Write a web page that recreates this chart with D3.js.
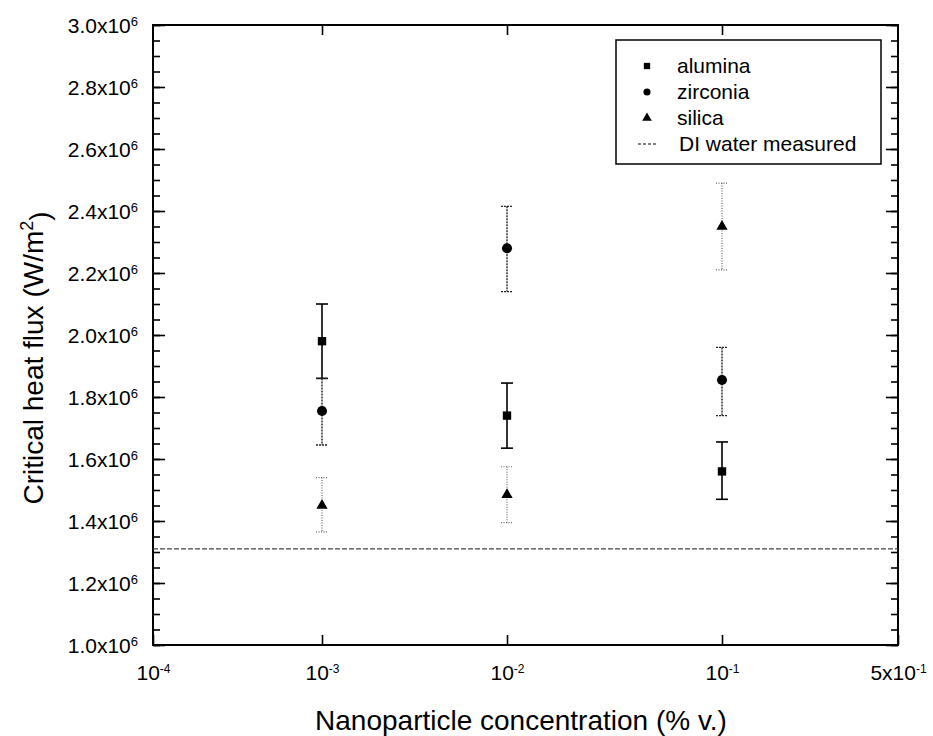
<!DOCTYPE html>
<html>
<head>
<meta charset="utf-8">
<style>
body { margin: 0; background: #fff; }
svg { font-family: "Liberation Sans", Arial, sans-serif; }
.frame { fill: none; stroke: #000; stroke-width: 2; }
.axis path { display: none; }
.axis line { stroke: #000; stroke-width: 1.6; }
.axis text { font-family: "Liberation Sans", Arial, sans-serif; font-size: 21px; fill: #000; }
.title { font-size: 28px; fill: #000; }
.legend text { font-size: 21px; fill: #000; }
</style>
</head>
<body>
<svg width="933" height="736"></svg>
<script src="https://d3js.org/d3.v7.min.js"></script>
<script>
// concentrations (% v.)
var conc = [1e-3, 1e-2, 1e-1];

// CHF values (W/m2) and error bar limits, per nanoparticle
var alumina     = [1.98e6, 1.74e6, 1.56e6];
var aluminaHi   = [2.10e6, 1.845e6, 1.655e6];
var aluminaLo   = [1.86e6, 1.635e6, 1.47e6];

var zirconia    = [1.755e6, 2.28e6, 1.855e6];
var zirconiaHi  = [1.86e6, 2.415e6, 1.96e6];
var zirconiaLo  = [1.645e6, 2.14e6, 1.74e6];

var silica      = [1.45e6, 1.485e6, 2.35e6];
var silicaHi    = [1.54e6, 1.575e6, 2.49e6];
var silicaLo    = [1.365e6, 1.395e6, 2.21e6];

var diWater = 1.31e6;

var xTicks = [1e-4, 1e-3, 1e-2, 1e-1, 5e-1];
var xTickBase = ["10", "10", "10", "10", "5x10"];
var xTickExp = ["-4", "-3", "-2", "-1", "-1"];
var yTicks = [1.0e6, 1.2e6, 1.4e6, 1.6e6, 1.8e6, 2.0e6, 2.2e6, 2.4e6, 2.6e6, 2.8e6, 3.0e6];
var legendNames = ["alumina", "zirconia", "silica", "DI water measured"];

var svg = d3.select("svg");
var pLeft = 153, pRight = 898, pTop = 25, pBottom = 645;

// the decades are not evenly spaced in the original figure
var x = d3.scaleLog()
  .domain(xTicks)
  .range([153, 322, 507, 722, 898]);

var y = d3.scaleLinear()
  .domain([1.0e6, 3.0e6])
  .range([pBottom, pTop]);

var minorY = d3.range(1.0e6, 3.0e6 + 1, 0.05e6);

// left axis (ticks inward)
svg.append("g").attr("class", "axis")
  .attr("transform", "translate(" + pLeft + ",0)")
  .call(d3.axisLeft(y).tickValues(minorY).tickSize(-7).tickFormat(""));
var gy = svg.append("g").attr("class", "axis")
  .attr("transform", "translate(" + pLeft + ",0)")
  .call(d3.axisLeft(y).tickValues(yTicks).tickSize(-12).tickPadding(15).tickFormat(""));
gy.selectAll(".tick text").each(function(d) {
  var t = d3.select(this).attr("dy", "0.36em").attr("text-anchor", "end");
  t.append("tspan").text((d / 1e6).toFixed(1) + "x10");
  t.append("tspan").attr("dy", "-0.55em").attr("font-size", "13px").text("6");
});

// right axis mirror
svg.append("g").attr("class", "axis")
  .attr("transform", "translate(" + pRight + ",0)")
  .call(d3.axisRight(y).tickValues(minorY).tickSize(-7).tickFormat(""));
svg.append("g").attr("class", "axis")
  .attr("transform", "translate(" + pRight + ",0)")
  .call(d3.axisRight(y).tickValues(yTicks).tickSize(-12).tickFormat(""));

// bottom axis
var gx = svg.append("g").attr("class", "axis")
  .attr("transform", "translate(0," + pBottom + ")")
  .call(d3.axisBottom(x).tickValues(xTicks).tickSize(-10).tickPadding(20).tickFormat(""));
gx.selectAll(".tick text").each(function(d, i) {
  var t = d3.select(this).attr("dy", "0.71em");
  t.append("tspan").text(xTickBase[i]);
  t.append("tspan").attr("dy", "-0.55em").attr("font-size", "12px").text(xTickExp[i]);
});

// top axis mirror
svg.append("g").attr("class", "axis")
  .attr("transform", "translate(0," + pTop + ")")
  .call(d3.axisTop(x).tickValues(xTicks.slice(1, 4)).tickSize(-10).tickFormat(""));

svg.append("rect").attr("class", "frame")
  .attr("x", pLeft).attr("y", pTop)
  .attr("width", pRight - pLeft).attr("height", pBottom - pTop);

// DI water reference line
svg.append("line")
  .attr("x1", pLeft).attr("x2", pRight)
  .attr("y1", y(diWater)).attr("y2", y(diWater))
  .attr("stroke", "#444").attr("stroke-width", 1.4)
  .attr("stroke-dasharray", "5,2");

var series = [
  {vals: alumina, hi: aluminaHi, lo: aluminaLo, sym: d3.symbolSquare, size: 70, stroke: "#000", dash: null, w: 1.6},
  {vals: zirconia, hi: zirconiaHi, lo: zirconiaLo, sym: d3.symbolCircle, size: 80, stroke: "#222", dash: "2,1", w: 1.4},
  {vals: silica, hi: silicaHi, lo: silicaLo, sym: d3.symbolTriangle, size: 55, stroke: "#666", dash: "1,1.5", w: 1.2}
];

series.forEach(function(s) {
  var g = svg.append("g");
  var bars = g.selectAll(".err").data(conc).enter().append("g")
    .attr("stroke", s.stroke).attr("stroke-width", s.w)
    .attr("stroke-dasharray", s.dash);
  bars.append("line")
    .attr("x1", function(d) { return x(d); }).attr("x2", function(d) { return x(d); })
    .attr("y1", function(d, i) { return y(s.hi[i]); })
    .attr("y2", function(d, i) { return y(s.lo[i]); });
  bars.append("line")
    .attr("x1", function(d) { return x(d) - 6; }).attr("x2", function(d) { return x(d) + 6; })
    .attr("y1", function(d, i) { return y(s.hi[i]); })
    .attr("y2", function(d, i) { return y(s.hi[i]); });
  bars.append("line")
    .attr("x1", function(d) { return x(d) - 6; }).attr("x2", function(d) { return x(d) + 6; })
    .attr("y1", function(d, i) { return y(s.lo[i]); })
    .attr("y2", function(d, i) { return y(s.lo[i]); });
  g.selectAll(".pt").data(conc).enter().append("path")
    .attr("d", d3.symbol().type(s.sym).size(s.size))
    .attr("fill", "#000")
    .attr("transform", function(d, i) { return "translate(" + x(d) + "," + y(s.vals[i]) + ")"; });
});

// legend
var lg = svg.append("g").attr("class", "legend");
lg.append("rect").attr("x", 616).attr("y", 40).attr("width", 265).attr("height", 124)
  .attr("fill", "#fff").attr("stroke", "#000").attr("stroke-width", 1.5);
var syms = [d3.symbolSquare, d3.symbolCircle, d3.symbolTriangle];
legendNames.forEach(function(n, i) {
  var yy = 66 + i * 26;
  if (i < 3) {
    lg.append("path").attr("d", d3.symbol().type(syms[i]).size(40))
      .attr("fill", "#000").attr("transform", "translate(647," + yy + ")");
  } else {
    lg.append("line").attr("x1", 638).attr("x2", 657).attr("y1", yy).attr("y2", yy)
      .attr("stroke", "#555").attr("stroke-width", 1.3).attr("stroke-dasharray", "3,2");
  }
  lg.append("text").attr("x", i < 3 ? 677 : 679).attr("y", yy).attr("dy", "0.35em").text(n);
});

// axis titles
svg.append("text").attr("class", "title")
  .attr("x", 521).attr("y", 730).attr("text-anchor", "middle")
  .text("Nanoparticle concentration (% v.)");
var yt = svg.append("text").attr("class", "title")
  .attr("transform", "translate(43,358) rotate(-90)").attr("text-anchor", "middle");
yt.append("tspan").text("Critical heat flux (W/m");
yt.append("tspan").attr("dy", "-0.55em").attr("font-size", "18px").text("2");
yt.append("tspan").attr("dy", "0.55em").text(")");
</script>
</body>
</html>
